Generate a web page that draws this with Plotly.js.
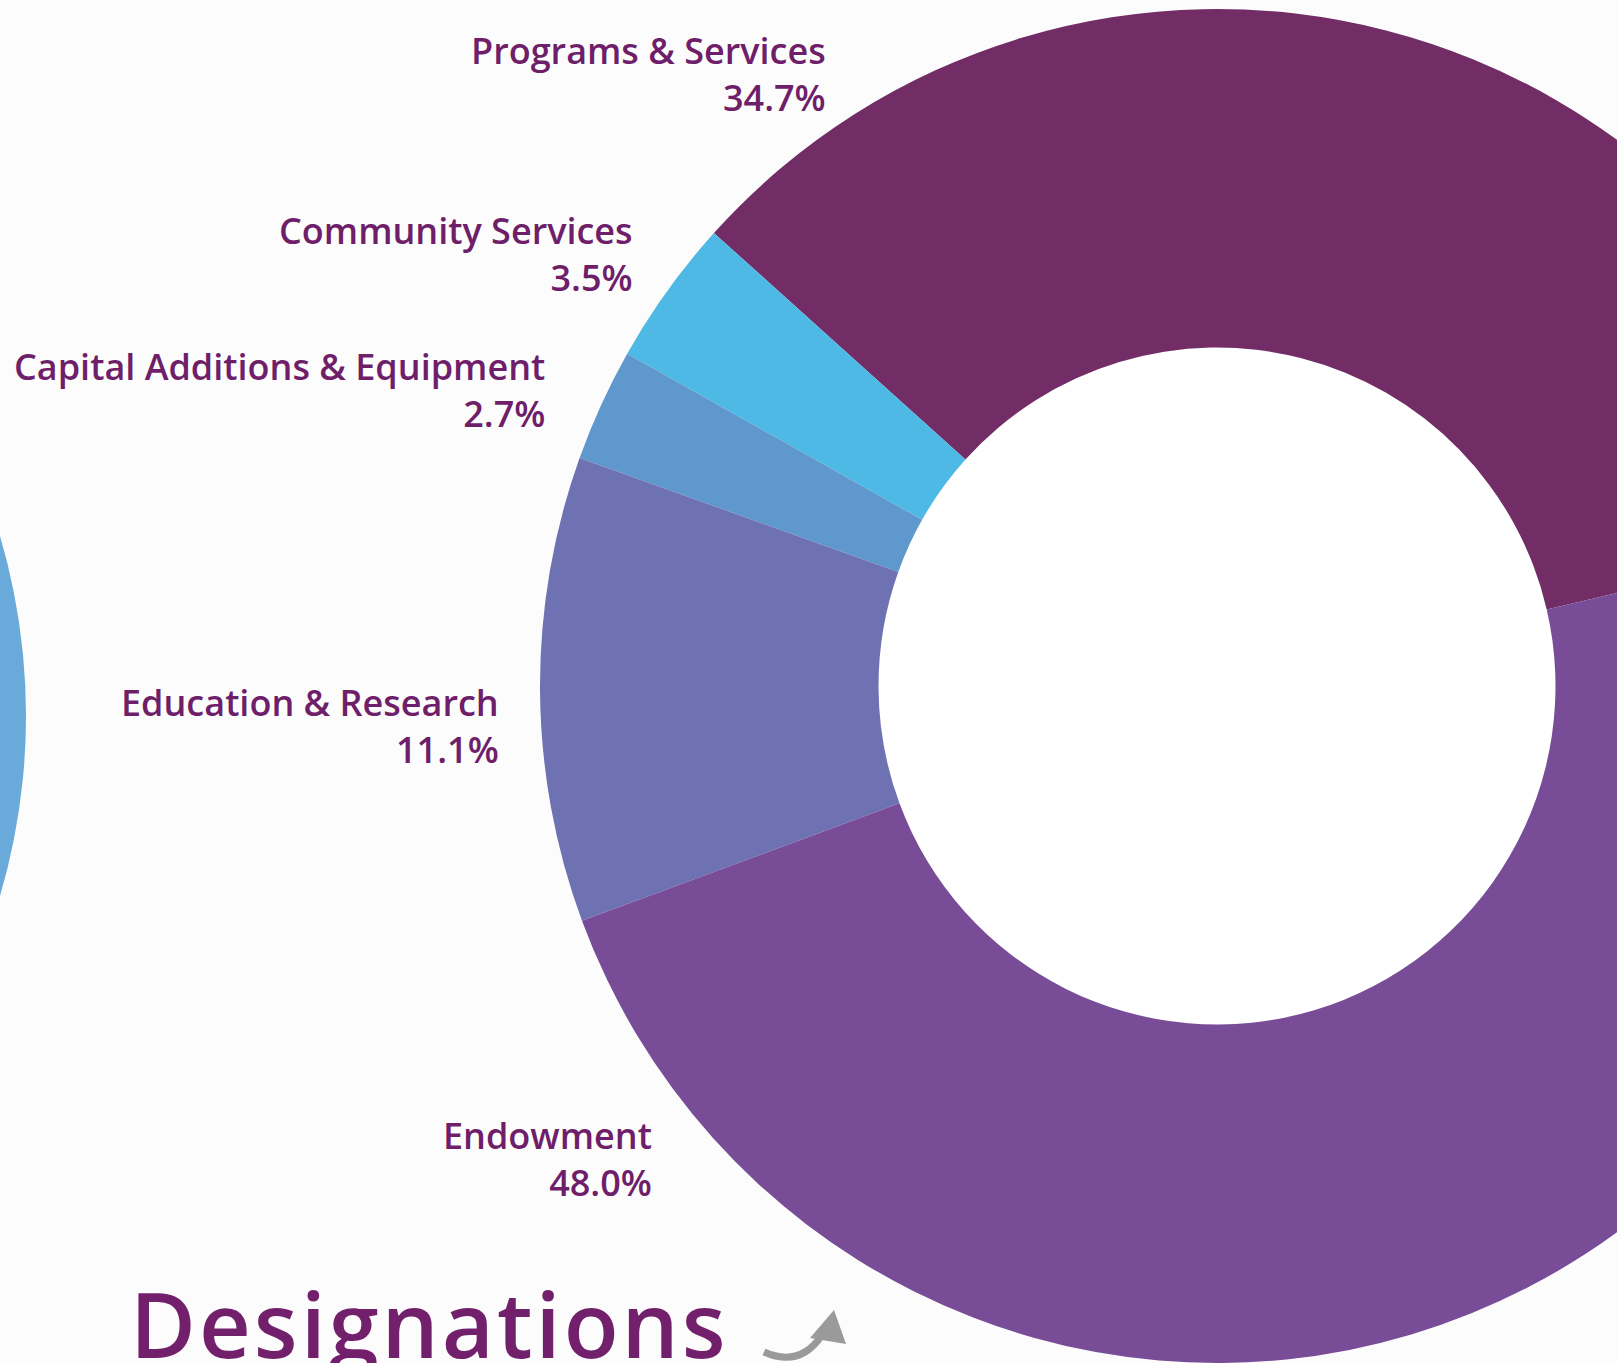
<!DOCTYPE html>
<html>
<head>
<meta charset="utf-8">
<script src="https://cdn.plot.ly/plotly-3.0.1.min.js"></script>
<style>
  html, body { margin: 0; padding: 0; overflow: hidden; background: #fcfcfc; }
  #chart { width: 2000px; height: 1363px; }
  #chart text { font-variant-ligatures: none; }
</style>
</head>
<body>
<div id="chart"></div>
<script>
// Data
const categories = ["Programs & Services", "Community Services", "Capital Additions & Equipment", "Education & Research", "Endowment"];
const shares = [34.7, 3.5, 2.7, 11.1, 48.0];
const sliceColors = ["#722D66", "#4FB9E5", "#5F98CD", "#6E72B2", "#784C96"];
const chartTitle = "Designations";

// Label layout (pixel positions of right edge and baseline of the name line)
const W = 2000, H = 1363;
const labelPos = [
  {x: 828, y: 64},
  {x: 635, y: 244},
  {x: 547, y: 380},
  {x: 501, y: 716},
  {x: 654, y: 1149}
];
const FS = 36;
const textColor = "#6F1E6A";
const fontFam = "'Open Sans', Lato, sans-serif";

const px = v => v / W;
const py = v => 1 - v / H;

const annotations = [];
categories.forEach((c, i) => {
  const p = labelPos[i];
  const center = p.y + 0.65 * FS - 0.36 * FS;
  annotations.push({
    xref: "paper", yref: "paper",
    x: px(p.x), y: py(center),
    xanchor: "right", yanchor: "middle", align: "right",
    text: c + "<br>" + shares[i].toFixed(1) + "%", showarrow: false,
    font: {family: fontFam, size: FS, color: textColor, weight: 600}
  });
});

const TFS = 90;
annotations.push({
  xref: "paper", yref: "paper",
  x: px(128), y: py(1355 - 0.36 * TFS),
  xanchor: "left", yanchor: "middle",
  text: `<span style="letter-spacing:3px">${chartTitle}</span>`, showarrow: false,
  font: {family: fontFam, size: TFS, color: "#721F6C", weight: 600}
});

const cx = 1217, cy = 686, R = 677;

const trace = {
  type: "pie",
  labels: categories,
  values: shares,
  sort: false,
  direction: "counterclockwise",
  rotation: -48,
  hole: 0.5,
  marker: {colors: sliceColors, line: {width: 0}},
  textinfo: "none",
  hoverinfo: "none",
  showlegend: false,
  domain: {x: [px(cx - R), px(cx + R)], y: [py(cy + R), py(cy - R)]}
};

const shapes = [
  // edge of the neighbouring chart on the left
  {type: "circle", xref: "paper", yref: "paper",
   x0: px(-610 - 636), x1: px(-610 + 636), y0: py(716 + 636), y1: py(716 - 636),
   fillcolor: "#6AAADB", line: {width: 0}, layer: "below"},
  // white hole background
  {type: "circle", xref: "paper", yref: "paper",
   x0: px(cx - 338), x1: px(cx + 338), y0: py(cy + 338), y1: py(cy - 338),
   fillcolor: "#ffffff", line: {width: 0}, layer: "below"},
  // small grey arrow
  {type: "path", xref: "paper", yref: "paper",
   path: `M ${px(764)} ${py(1352)} Q ${px(800)} ${py(1368)} ${px(822)} ${py(1335)}`,
   line: {color: "#9a9a9a", width: 7}},
  {type: "path", xref: "paper", yref: "paper",
   path: `M ${px(810)} ${py(1338)} L ${px(834)} ${py(1310)} L ${px(846)} ${py(1344)} Z`,
   fillcolor: "#9a9a9a", line: {width: 0}}
];

const layout = {
  width: W, height: H,
  margin: {l: 0, r: 0, t: 0, b: 0},
  paper_bgcolor: "#fcfcfc",
  plot_bgcolor: "#fcfcfc",
  annotations: annotations,
  shapes: shapes,
  showlegend: false
};

Plotly.newPlot("chart", [trace], layout, {displayModeBar: false, staticPlot: true});
</script>
</body>
</html>
